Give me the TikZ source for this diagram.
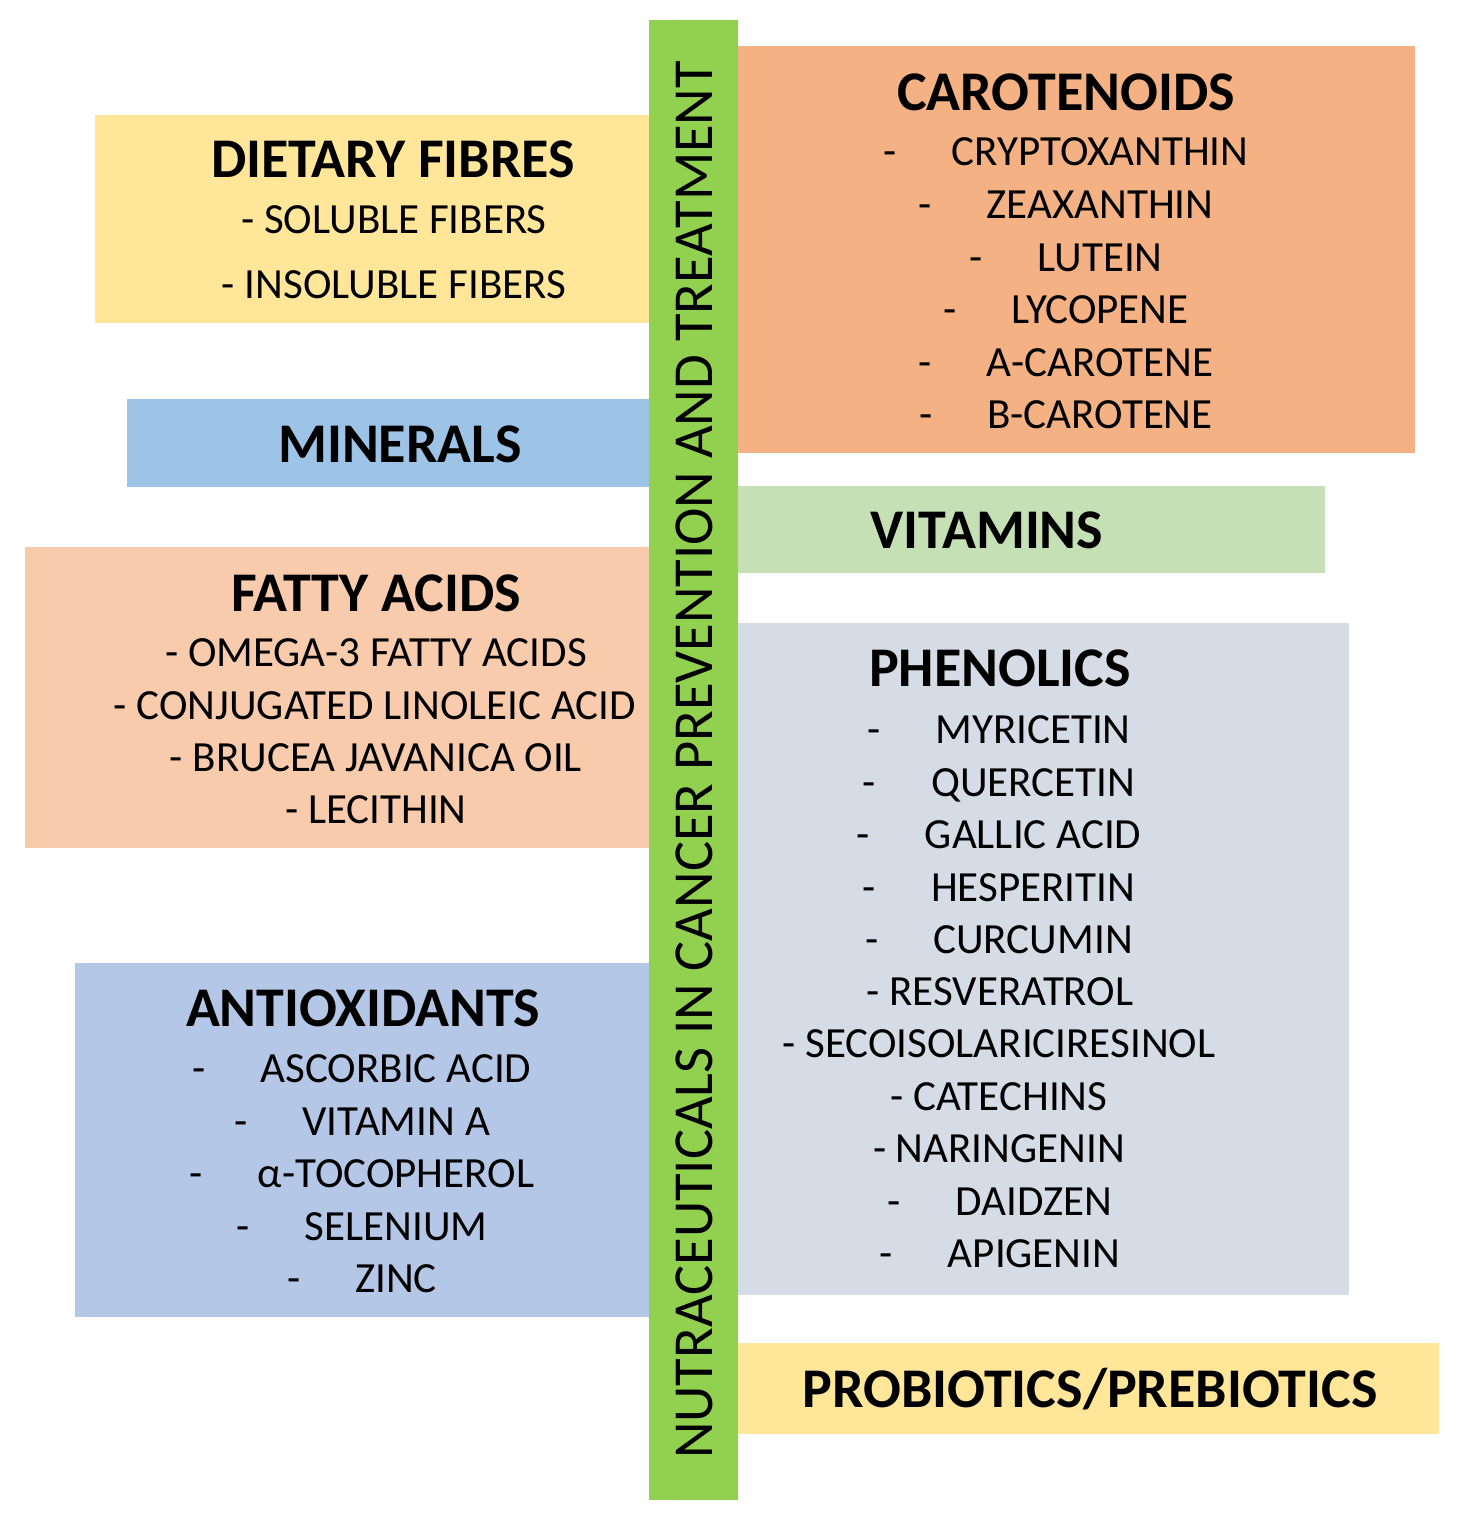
\documentclass[tikz,border=0pt]{standalone}
\usepackage{fontspec}
\setmainfont{Carlito}
\usepackage{tikz}
\definecolor{barcol}{HTML}{92D050}
\definecolor{fibcol}{HTML}{FFE699}
\definecolor{mincol}{HTML}{9DC3E6}
\definecolor{fatcol}{HTML}{F8CBAD}
\definecolor{anticol}{HTML}{B4C7E7}
\definecolor{carcol}{HTML}{F4B183}
\definecolor{vitcol}{HTML}{C5E0B4}
\definecolor{phecol}{HTML}{D6DCE5}
\tikzstyle{panel}=[rectangle,draw=none,inner sep=0pt,anchor=north west]
\tikzstyle{title}=[anchor=base,inner sep=0pt,font=\bfseries\fontsize{56}{67}\selectfont]
\tikzstyle{item}=[anchor=base,inner sep=0pt,font=\fontsize{43}{52}\selectfont]
\newcommand{\dashgap}{-\hspace{55pt}}

\begin{document}
\begin{tikzpicture}[x=1pt,y=-1pt]
          \path[use as bounding box,fill=white] (0,0) rectangle (1471,1522);
          % left side
          \node[panel,fill=fibcol,minimum width=555pt,minimum height=208pt] (fibbox) at (95,115) {};
          \node[panel,fill=mincol,minimum width=523pt,minimum height=88pt] (minbox) at (127,399) {};
          \node[panel,fill=fatcol,minimum width=625pt,minimum height=301pt] (fatbox) at (25,547) {};
          \node[panel,fill=anticol,minimum width=575pt,minimum height=354pt] (antibox) at (75,963) {};
          % right side
          \node[panel,fill=carcol,minimum width=677pt,minimum height=407pt] (carbox) at (738,46) {};
          \node[panel,fill=vitcol,minimum width=587pt,minimum height=87pt] (vitbox) at (738,486) {};
          \node[panel,fill=phecol,minimum width=611pt,minimum height=672pt] (phebox) at (738,623) {};
          \node[panel,fill=fibcol,minimum width=701pt,minimum height=91pt] (probox) at (738,1343) {};
          % centre bar
          \node[panel,fill=barcol,minimum width=89pt,minimum height=1480pt] (bar) at (649,20) {};
          \node[rotate=90,inner sep=0pt,font=\fontsize{56.5}{68}\selectfont] (bartext) at (694,760) {NUTRACEUTICALS IN CANCER PREVENTION AND TREATMENT};

          \node[title] (fib) at (393,178) {DIETARY FIBRES};
          \node[item] (fib1) at (394,234) {- SOLUBLE FIBERS};
          \node[item] (fib2) at (394,298) {- INSOLUBLE FIBERS};

          \node[title] (min) at (400,462) {MINERALS};

          \node[title] (fat) at (376,611) {FATTY ACIDS};
          \node[item] (fat1) at (376,666) {- OMEGA-3 FATTY ACIDS};
          \node[item] (fat2) at (375,719) {- CONJUGATED LINOLEIC ACID};
          \node[item] (fat3) at (376,771) {- BRUCEA JAVANICA OIL};
          \node[item] (fat4) at (376,823) {- LECITHIN};

          \node[title] (anti) at (363,1026) {ANTIOXIDANTS};
          \node[item] (anti1) at (362,1082) {\dashgap ASCORBIC ACID};
          \node[item] (anti2) at (362,1135) {\dashgap VITAMIN A};
          \node[item] (anti3) at (362,1187) {\dashgap α-TOCOPHEROL};
          \node[item] (anti4) at (362,1240) {\dashgap SELENIUM};
          \node[item] (anti5) at (362,1292) {\dashgap ZINC};

          \node[title] (car) at (1066,111) {CAROTENOIDS};
          \node[item] (car1) at (1066,166) {\dashgap CRYPTOXANTHIN};
          \node[item] (car2) at (1066,219) {\dashgap ZEAXANTHIN};
          \node[item] (car3) at (1066,271) {\dashgap LUTEIN};
          \node[item] (car4) at (1066,323) {\dashgap LYCOPENE};
          \node[item] (car5) at (1066,376) {\dashgap A-CAROTENE};
          \node[item] (car6) at (1066,428) {\dashgap B-CAROTENE};

          \node[title] (vit) at (987,548) {VITAMINS};

          \node[title] (phe) at (1000,686) {PHENOLICS};
          \node[item] (phe1) at (999,743) {\dashgap MYRICETIN};
          \node[item] (phe2) at (999,796) {\dashgap QUERCETIN};
          \node[item] (phe3) at (999,848) {\dashgap GALLIC ACID};
          \node[item] (phe4) at (999,901) {\dashgap HESPERITIN};
          \node[item] (phe5) at (999,953) {\dashgap CURCUMIN};
          \node[item] (phe6) at (1000,1005) {- RESVERATROL};
          \node[item] (phe7) at (999,1057) {- SECOISOLARICIRESINOL};
          \node[item] (phe8) at (999,1110) {- CATECHINS};
          \node[item] (phe9) at (999,1162) {- NARINGENIN};
          \node[item] (phe10) at (1000,1215) {\dashgap DAIDZEN};
          \node[item] (phe11) at (1000,1267) {\dashgap APIGENIN};

          \node[title] (pro) at (1090,1407) {PROBIOTICS/PREBIOTICS};
\end{tikzpicture}
\end{document}
